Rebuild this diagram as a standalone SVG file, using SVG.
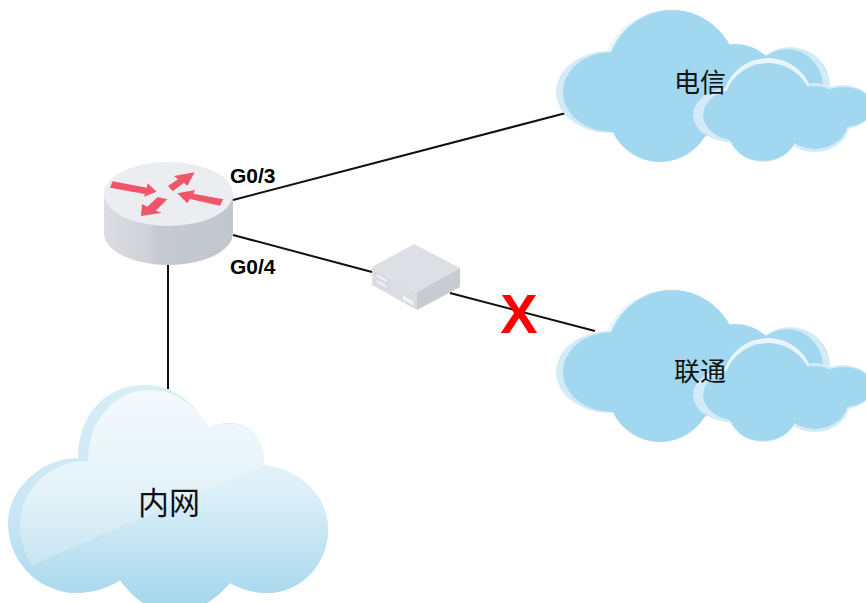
<svg xmlns="http://www.w3.org/2000/svg" xmlns:xlink="http://www.w3.org/1999/xlink" width="866" height="603" viewBox="0 0 866 603">
<style>
.link{stroke:#111;stroke-width:2;fill:none}
.port{font:bold 21px "Liberation Sans",Arial,sans-serif;fill:#000}
.cn{font-family:"Noto Sans CJK SC",sans-serif;fill:#111;text-anchor:middle}
.arr{fill:#f0566a}
.rim{fill:#d3ebf7}
.rim2{fill:#e8f5fb}
.fill{fill:#a2d7f0}
</style>
<defs>
<linearGradient id="side" x1="0" x2="1" y1="0" y2="0">
<stop offset="0" stop-color="#dcdde2"/><stop offset=".35" stop-color="#d0d2d8"/><stop offset=".4" stop-color="#c6c9d0"/><stop offset="1" stop-color="#c2c6cd"/>
</linearGradient>
<linearGradient id="lan" x1="0" x2="0" y1="385" y2="603" gradientUnits="userSpaceOnUse">
<stop offset="0" stop-color="#f2f9fc"/><stop offset=".5" stop-color="#dcEff8"/><stop offset="1" stop-color="#a6d7ec"/>
</linearGradient>
<linearGradient id="lanrim" x1="0" x2="0" y1="385" y2="603" gradientUnits="userSpaceOnUse">
<stop offset="0" stop-color="#d8eef8"/><stop offset=".6" stop-color="#c8e6f4"/><stop offset="1" stop-color="#a9d9ee"/>
</linearGradient>
<clipPath id="gloss"><polygon points="0,380 340,380 340,435 265,465 32,565 0,578"/></clipPath>
<path id="lanin" d="M88 461C88 420 115 390 150 390C175 390 197 405 208 428C238 416 265 430 264 465C300 470 328 495 328 530C328 565 300 593 267 593C254 593 241 589 230 583C218 597 200 612 175 612C150 612 132 597 120 580C107 589 90 593 73 593C45 590 20 560 20 525C20 490 50 460 88 461Z"/>
<g id="cloudShape">
<ellipse class="rim" cx="610" cy="92" rx="54" ry="41"/>
<ellipse class="rim2" cx="670" cy="78" rx="69" ry="68"/>
<ellipse class="rim" cx="790" cy="85" rx="40" ry="38"/>
<ellipse class="fill" cx="612" cy="92" rx="49" ry="40"/>
<ellipse class="fill" cx="672" cy="78" rx="66" ry="68"/>
<ellipse class="fill" cx="660" cy="110" rx="52" ry="52"/>
<ellipse class="fill" cx="735" cy="87" rx="45" ry="43"/>
<ellipse class="fill" cx="787" cy="87" rx="36" ry="38"/>
<ellipse class="rim" cx="735" cy="115" rx="42" ry="28"/>
<ellipse class="rim2" cx="768" cy="105" rx="46" ry="47"/>
<ellipse class="rim" cx="843" cy="107" rx="30" ry="22"/>
<ellipse class="rim" cx="815" cy="110" rx="30" ry="27"/>
<ellipse class="rim" cx="815" cy="122" rx="35" ry="30"/>
<ellipse class="rim" cx="763" cy="130" rx="35" ry="32"/>
<ellipse class="fill" cx="740" cy="115" rx="37" ry="26"/>
<ellipse class="fill" cx="768" cy="106" rx="44" ry="43"/>
<ellipse class="fill" cx="843" cy="107" rx="30" ry="20"/>
<ellipse class="fill" cx="815" cy="112" rx="29" ry="26"/>
<ellipse class="fill" cx="815" cy="121" rx="33" ry="28"/>
<ellipse class="fill" cx="763" cy="130" rx="35" ry="31"/>
<ellipse class="fill" cx="785" cy="122" rx="40" ry="20"/>
</g>
</defs>
<g id="connectors">
<line class="link" x1="233" y1="200" x2="566" y2="113"/>
<line class="link" x1="233" y1="235" x2="372" y2="272"/>
<line class="link" x1="450" y1="293" x2="595" y2="331"/>
<line class="link" x1="168" y1="262" x2="168" y2="389"/>
</g>
<g id="router">
<path d="M104 194V233C104 251 133 265 168.500 265C204 265 233 251 233 233V194Z" fill="url(#side)"/>
<ellipse cx="168.500" cy="194" rx="64.500" ry="32" fill="#ecedf1"/>
<g transform="translate(90 150) scale(.3333)">
<polygon class="arr" points="68,94 170,113 173,100 200,125 162,140 165,132 60,113"/>
<polygon class="arr" points="314,67 252,78 264,88 234,108 248,124 282,98 292,108"/>
<polygon class="arr" points="262,130 316,120 310,131 400,148 390,167 300,147 292,160"/>
<polygon class="arr" points="153,198 156,162 172,170 203,141 232,148 197,182 216,188"/>
</g>
</g>
<g id="device">
<polygon points="372,267 414,244 460,268 417,292" fill="#dedfe5"/>
<polygon points="372,267 417,292 417,310 372,285" fill="#dcdde3"/>
<polygon points="417,292 460,268 460,287 417,310" fill="#c9cbd2"/>
<polygon points="376,273 387,279 387,283 376,277" fill="#eceef1" stroke="#c5c7ce" stroke-width=".5"/>
<polygon points="376,279 387,285 387,289 376,283" fill="#eceef1" stroke="#c5c7ce" stroke-width=".5"/>
<polygon points="402,294 414,301 414,306 402,300" fill="#f2f3f5" stroke="#c5c7ce" stroke-width=".5"/>
</g>
<text id="fail" x="519" y="333" font-family="Liberation Sans,Arial,sans-serif" font-weight="bold" font-size="56" fill="#ff0000" text-anchor="middle">X</text>
<g id="telecom">
<use href="#cloudShape" xlink:href="#cloudShape"/>
<text class="cn" x="700" y="92" font-size="26">电信</text>
</g>
<g id="unicom">
<use href="#cloudShape" xlink:href="#cloudShape" transform="translate(0 280)"/>
<text class="cn" x="700" y="381" font-size="26">联通</text>
</g>
<g id="lan-cloud">
<path fill="url(#lanrim)" d="M78 458C78 415 105 385 145 385C172 385 195 402 208 428C238 414 265 430 264 465C300 470 328 495 328 530C328 565 300 593 267 593C254 593 241 589 230 583C218 597 200 612 175 612C150 612 132 597 120 580C107 589 90 593 73 593C35 590 8 560 8 523C8 490 40 458 78 458Z"/>
<use href="#lanin" xlink:href="#lanin" fill="url(#lan)"/>
<use href="#lanin" xlink:href="#lanin" fill="#fff" fill-opacity=".22" clip-path="url(#gloss)"/>
<text class="cn" x="169" y="514" font-size="31">内网</text>
</g>
<text class="port" x="230" y="183">G0/3</text>
<text class="port" x="230" y="274">G0/4</text>
</svg>
